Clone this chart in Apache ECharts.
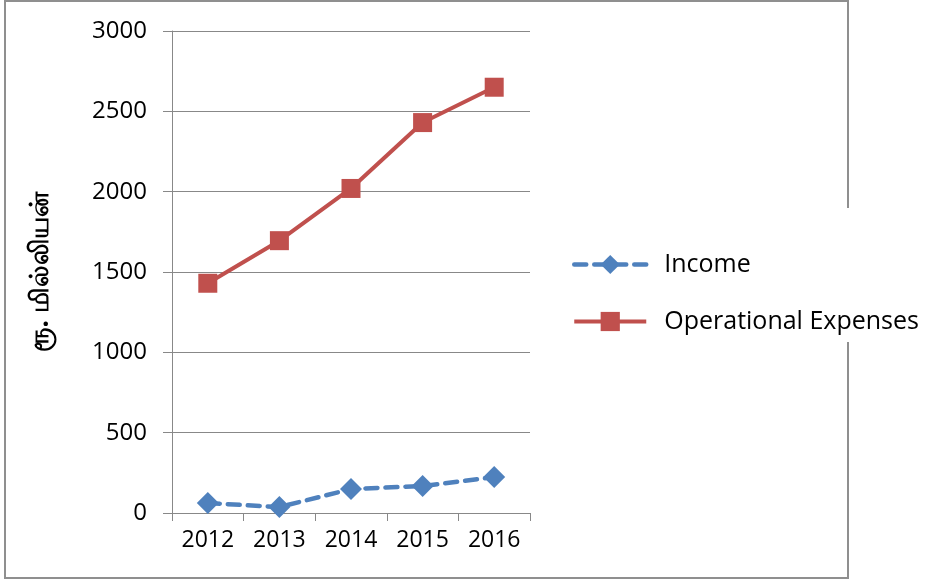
<!DOCTYPE html>
<html>
<head>
<meta charset="utf-8">
<script src="https://cdn.jsdelivr.net/npm/echarts@6/dist/echarts.min.js"></script>
<style>html,body{margin:0;padding:0;background:#fff;}#c{width:925px;height:583px;}</style>
</head>
<body>
<div id="c"></div>
<script>
const categories = ['2012', '2013', '2014', '2015', '2016'];
const income = [62, 37, 149, 168, 224];
const operationalExpenses = [1430, 1695, 2020, 2430, 2650];
const yTicks = { min: 0, max: 3000, interval: 500 };
const yName = 'ரூ. மில்லியன்';

const chart = echarts.init(document.getElementById('c'), null, { renderer: 'canvas' });
const font = '"Open Sans", "Noto Sans", sans-serif';
const axisGray = '#888888';
const blue = '#4F81BD', red = '#C0504D';
const incomeLine = { color: blue, width: 4.5, type: [12, 8], cap: 'round' };
const expLine = { color: red, width: 4 };
chart.setOption({
  animation: false,
  backgroundColor: '#ffffff',
  graphic: [{
    type: 'rect', z: 0, silent: true,
    shape: { x: 5, y: 1, width: 843, height: 577 },
    style: { fill: 'none', stroke: '#8f8f8f', lineWidth: 2 }
  }],
  grid: { left: 172, right: 395, top: 31, bottom: 70 },
  legend: {
    orient: 'vertical',
    left: 567, top: 208,
    padding: [44, 10, 8, 5],
    backgroundColor: '#ffffff',
    z: 10,
    itemWidth: 72, itemHeight: 24, itemGap: 32, itemTextGap: 20,
    textStyle: { fontFamily: font, fontSize: 25, color: '#000', padding: [0, 0, 0, 13] },
    data: [
      { name: 'Income', lineStyle: incomeLine },
      { name: 'Operational Expenses', lineStyle: expLine }
    ]
  },
  xAxis: {
    type: 'category',
    data: categories,
    boundaryGap: true,
    axisLine: { lineStyle: { color: axisGray, width: 1 } },
    axisTick: { show: true, length: 8, alignWithLabel: false, lineStyle: { color: axisGray } },
    axisLabel: { fontFamily: font, fontSize: 23, color: '#000', margin: 16 },
    splitLine: { show: false }
  },
  yAxis: {
    type: 'value',
    min: yTicks.min, max: yTicks.max, interval: yTicks.interval,
    name: yName,
    nameLocation: 'middle',
    nameRotate: 90,
    nameGap: 118,
    nameTextStyle: { fontFamily: '"Noto Sans", "DejaVu Sans", sans-serif', fontSize: 26, fontWeight: 'bold', color: '#000' },
    axisLine: { show: true, lineStyle: { color: axisGray, width: 1 } },
    axisTick: { show: true, length: 9, lineStyle: { color: axisGray } },
    axisLabel: { fontFamily: font, fontSize: 24, color: '#000', margin: 25, formatter: v => String(v) },
    splitLine: { show: true, lineStyle: { color: axisGray, width: 1 } }
  },
  series: [
    {
      name: 'Income', type: 'line', data: income,
      symbol: 'diamond', symbolSize: 22,
      itemStyle: { color: blue },
      lineStyle: incomeLine,
      z: 3
    },
    {
      name: 'Operational Expenses', type: 'line', data: operationalExpenses,
      symbol: 'rect', symbolSize: 19,
      itemStyle: { color: red },
      lineStyle: expLine,
      z: 3
    }
  ]
});
</script>
</body>
</html>
